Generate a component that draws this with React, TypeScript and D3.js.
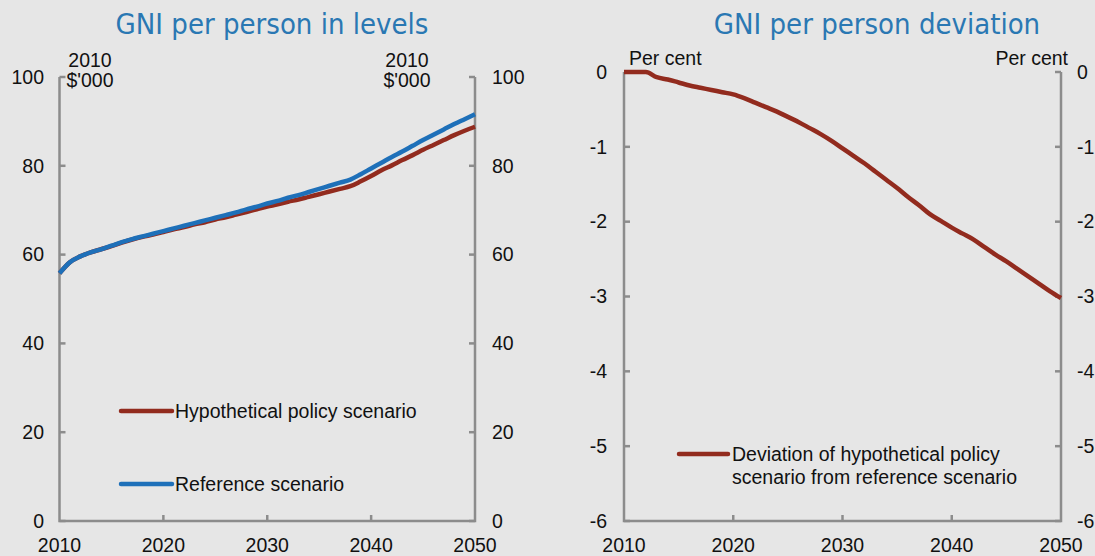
import React from 'react';
import * as d3 from 'd3';

// data
const years = d3.range(2010, 2051);

const referenceScenario = [
  55.8, 58.3, 59.6, 60.5, 61.2, 62.0, 62.8, 63.5, 64.1, 64.7,
  65.3, 65.9, 66.5, 67.1, 67.7, 68.3, 68.9, 69.5, 70.2, 70.8,
  71.5, 72.1, 72.8, 73.4, 74.1, 74.8, 75.5, 76.2, 76.9, 78.1,
  79.4, 80.7, 82.0, 83.2, 84.5, 85.8, 87.0, 88.2, 89.4, 90.5,
  91.6,
];

const policyScenario = [
  55.8, 58.3, 59.6, 60.5, 61.2, 61.9, 62.7, 63.4, 64.0, 64.5,
  65.1, 65.7, 66.2, 66.8, 67.3, 67.9, 68.4, 69.0, 69.6, 70.2,
  70.8, 71.3, 71.9, 72.4, 73.0, 73.6, 74.2, 74.8, 75.4, 76.5,
  77.7, 79.0, 80.1, 81.3, 82.4, 83.6, 84.7, 85.8, 86.9, 87.9,
  88.8,
];

const deviation = [
  0, 0, 0, -0.07, -0.10, -0.14, -0.18, -0.21, -0.24, -0.27,
  -0.30, -0.35, -0.41, -0.47, -0.53, -0.60, -0.67, -0.75, -0.83, -0.92,
  -1.02, -1.12, -1.22, -1.33, -1.44, -1.55, -1.67, -1.78, -1.90, -1.99,
  -2.08, -2.16, -2.24, -2.34, -2.44, -2.53, -2.63, -2.73, -2.83, -2.93,
  -3.02,
];

const xTicks = [2010, 2020, 2030, 2040, 2050];
const levelTicks = [0, 20, 40, 60, 80, 100];
const deviationTicks = [0, -1, -2, -3, -4, -5, -6];

const RED = '#922b1e';
const BLUE = '#1e70b9';
const AXIS = '#8c8c8c';
const TITLE = '#2a78b3';
const FONT = '"Liberation Sans", Arial, sans-serif';
const FS = 19.5;
const TITLE_FONT = '"DejaVu Sans Condensed", "DejaVu Sans", sans-serif';

type PanelProps = {
  x: d3.ScaleLinear<number, number>;
  y: d3.ScaleLinear<number, number>;
  yTicks: number[];
};

const Frame = ({ x, y, yTicks }: PanelProps) => {
  const [x0, x1] = x.range();
  const [yb, yt] = y.range();
  return (
    <g stroke={AXIS} strokeWidth={2.5} fill="none">
      <path d={`M${x0},${yt}V${yb}H${x1}V${yt}`} />
      {yTicks.map(t => (
        <g key={t}>
          <line x1={x0} x2={x0 + 6} y1={y(t)} y2={y(t)} />
          <line x1={x1} x2={x1 - 6} y1={y(t)} y2={y(t)} />
        </g>
      ))}
      {xTicks.slice(1, -1).map(t => (
        <line key={t} x1={x(t)} x2={x(t)} y1={yb} y2={yb - 6} />
      ))}
    </g>
  );
};

const TickLabels = ({ x, y, yTicks, leftEdge, rightEdge }: PanelProps & { leftEdge: number; rightEdge: number }) => {
  const yb = y.range()[0];
  return (
    <g fontFamily={FONT} fontSize={FS} fill="#111">
      {yTicks.map(t => (
        <g key={t}>
          <text x={leftEdge} y={y(t)} dy="0.35em" textAnchor="end">{t}</text>
          <text x={rightEdge} y={y(t)} dy="0.35em">{t}</text>
        </g>
      ))}
      {xTicks.map(t => (
        <text key={t} x={x(t)} y={yb + 31} textAnchor="middle">{t}</text>
      ))}
    </g>
  );
};

export default function App() {
  const xL = d3.scaleLinear().domain([2010, 2050]).range([59.5, 475]);
  const yL = d3.scaleLinear().domain([0, 100]).range([521, 77]);
  const xR = d3.scaleLinear().domain([2010, 2050]).range([624, 1061]);
  const yR = d3.scaleLinear().domain([-6, 0]).range([521, 72]);

  const lineL = d3.line<number>().x((_, i) => xL(years[i])).y(d => yL(d)).curve(d3.curveMonotoneX);
  const lineR = d3.line<number>().x((_, i) => xR(years[i])).y(d => yR(d)).curve(d3.curveMonotoneX);

  return (
    <svg width={1095} height={556} style={{ position: 'absolute', left: 0, top: 0, background: '#e6e6e6' }}>
      <rect width={1095} height={556} fill="#e6e6e6" />

      <text x={272} y={34} textAnchor="middle" fontFamily={TITLE_FONT} fontSize={29} fill={TITLE}>GNI per person in levels</text>
      <text x={877} y={34} textAnchor="middle" fontFamily={TITLE_FONT} fontSize={29} fill={TITLE}>GNI per person deviation</text>

      {/* left panel */}
      <Frame x={xL} y={yL} yTicks={levelTicks} />
      <TickLabels x={xL} y={yL} yTicks={levelTicks} leftEdge={44} rightEdge={492} />
      <g fontFamily={FONT} fontSize={FS} fill="#111" textAnchor="middle">
        <text x={90} y={67}>2010</text>
        <text x={90} y={87}>$'000</text>
        <text x={407} y={67}>2010</text>
        <text x={407} y={87}>$'000</text>
      </g>
      <path d={lineL(policyScenario) ?? ''} fill="none" stroke={RED} strokeWidth={4.5} />
      <path d={lineL(referenceScenario) ?? ''} fill="none" stroke={BLUE} strokeWidth={4.5} />

      <g fontFamily={FONT} fontSize={FS} fill="#111">
        <line x1={121} x2={172} y1={411} y2={411} stroke={RED} strokeWidth={4.5} strokeLinecap="round" />
        <text x={175} y={418}>Hypothetical policy scenario</text>
        <line x1={121} x2={172} y1={484} y2={484} stroke={BLUE} strokeWidth={4.5} strokeLinecap="round" />
        <text x={175} y={491}>Reference scenario</text>
      </g>

      {/* right panel */}
      <Frame x={xR} y={yR} yTicks={deviationTicks} />
      <TickLabels x={xR} y={yR} yTicks={deviationTicks} leftEdge={607} rightEdge={1077} />
      <g fontFamily={FONT} fontSize={FS} fill="#111">
        <text x={629} y={65}>Per cent</text>
        <text x={1068} y={65} textAnchor="end">Per cent</text>
      </g>
      <path d={lineR(deviation) ?? ''} fill="none" stroke={RED} strokeWidth={4.5} />

      <g fontFamily={FONT} fontSize={FS} fill="#111">
        <line x1={679} x2={728} y1={454} y2={454} stroke={RED} strokeWidth={4.5} strokeLinecap="round" />
        <text x={732} y={461}>Deviation of hypothetical policy</text>
        <text x={732} y={484}>scenario from reference scenario</text>
      </g>
    </svg>
  );
}
